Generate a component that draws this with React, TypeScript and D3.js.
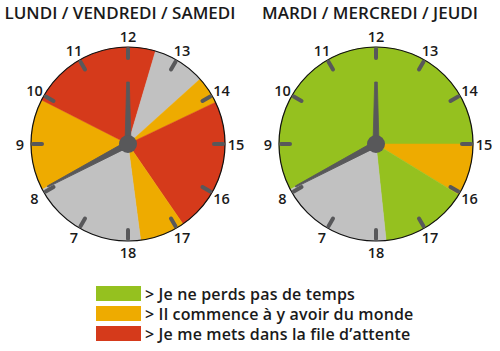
import React from 'react';
import * as d3 from 'd3';

const hourLabels = [7, 8, 9, 10, 11, 12, 13, 14, 15, 16, 17, 18];
const clockTitles = ['LUNDI / VENDREDI / SAMEDI', 'MARDI / MERCREDI / JEUDI'];

// segment boundaries (clock hours) and the status of the segment starting at each boundary
const clock1Bounds = [8.07, 9.9, 12.55, 13.6, 14.15, 16.85, 17.75];
const clock1Status = ['orange', 'red', 'gray', 'orange', 'red', 'orange', 'gray'];
const clock2Bounds = [8.07, 15, 16.05, 17.8];
const clock2Status = ['green', 'orange', 'green', 'gray'];

const hourHand = [8.07, 8.07];
const minuteHand = [12, 12];

const legendKeys = ['green', 'orange', 'red'];
const legendLabels = [
  '> Je ne perds pas de temps',
  '> Il commence à y avoir du monde',
  '> Je me mets dans la file d’attente',
];

const colors: Record<string, string> = {
  green: '#95c11f',
  orange: '#eeab00',
  red: '#d53a1b',
  gray: '#c1c1c1',
};
const dark = '#58585a';
const FONT = "'Open Sans', sans-serif";

const angle = d3.scaleLinear().domain([0, 12]).range([0, 2 * Math.PI]);

function Clock({ cx, cy, r, title, titleX, bounds, status, hh, mh }: any) {
  const arc = d3.arc<any>().innerRadius(0).outerRadius(r);
  const segs = bounds.map((b: number, i: number) => {
    let end = i < bounds.length - 1 ? bounds[i + 1] : bounds[0];
    if (end <= b) end += 12;
    return { start: b, end, s: status[i] };
  });
  const handPath = (h: number, len: number, w0: number, w1: number) => {
    const a = (angle(h % 12) * 180) / Math.PI;
    const d = `M${-w0},0 L${-w1},${-len} L${w1},${-len} L${w0},0 Z`;
    return <path d={d} fill={dark} transform={`rotate(${a})`} strokeLinejoin="round" stroke={dark} strokeWidth={0.8} />;
  };
  return (
    <g>
      <text x={titleX} y={19} textAnchor="middle" fontFamily={FONT} fontWeight={600} fontSize={17} fill="#1a1a1a">
        {title}
      </text>
      <g transform={`translate(${cx},${cy})`}>
        {segs.map((sg: any, i: number) => (
          <path key={i} d={arc({ startAngle: angle(sg.start), endAngle: angle(sg.end) }) as string} fill={colors[sg.s]} stroke={colors[sg.s]} strokeWidth={0.5} />
        ))}
        <circle r={r} fill="none" stroke="#111" strokeWidth={1.2} />
        {hourLabels.map((h) => {
          const a = angle(h % 12);
          const sx = Math.sin(a), sy = -Math.cos(a);
          return (
            <g key={h}>
              <line x1={sx * (r - 2)} y1={sy * (r - 2)} x2={sx * (r - 11)} y2={sy * (r - 11)} stroke={dark} strokeWidth={4} strokeLinecap="round" />
              <text x={sx * (r + 11)} y={sy * (r + 11)} textAnchor="middle" dominantBaseline="central" fontFamily={FONT} fontWeight={600} fontSize={14.5} fill="#1a1a1a">
                {h}
              </text>
            </g>
          );
        })}
        {handPath(hh, 91, 3, 0.6)}
        {handPath(mh, 62, 3, 1.3)}
        <circle r={9} fill={dark} />
      </g>
    </g>
  );
}

export default function App() {
  return (
    <svg width={500} height={351} style={{ position: 'absolute', left: 0, top: 0, background: '#fff' }}>
      <Clock cx={128} cy={144} r={97} title={clockTitles[0]} titleX={120} bounds={clock1Bounds} status={clock1Status} hh={hourHand[0]} mh={minuteHand[0]} />
      <Clock cx={376} cy={144} r={97} title={clockTitles[1]} titleX={370} bounds={clock2Bounds} status={clock2Status} hh={hourHand[1]} mh={minuteHand[1]} />
      {legendKeys.map((k, i) => (
        <g key={k} transform={`translate(96,${286 + i * 20})`}>
          <rect width={45} height={15} fill={colors[k]} />
          <text x={49} y={8} dominantBaseline="central" fontFamily={FONT} fontWeight={600} fontSize={16} letterSpacing={0.15} fill="#1a1a1a">
            {legendLabels[i]}
          </text>
        </g>
      ))}
    </svg>
  );
}
